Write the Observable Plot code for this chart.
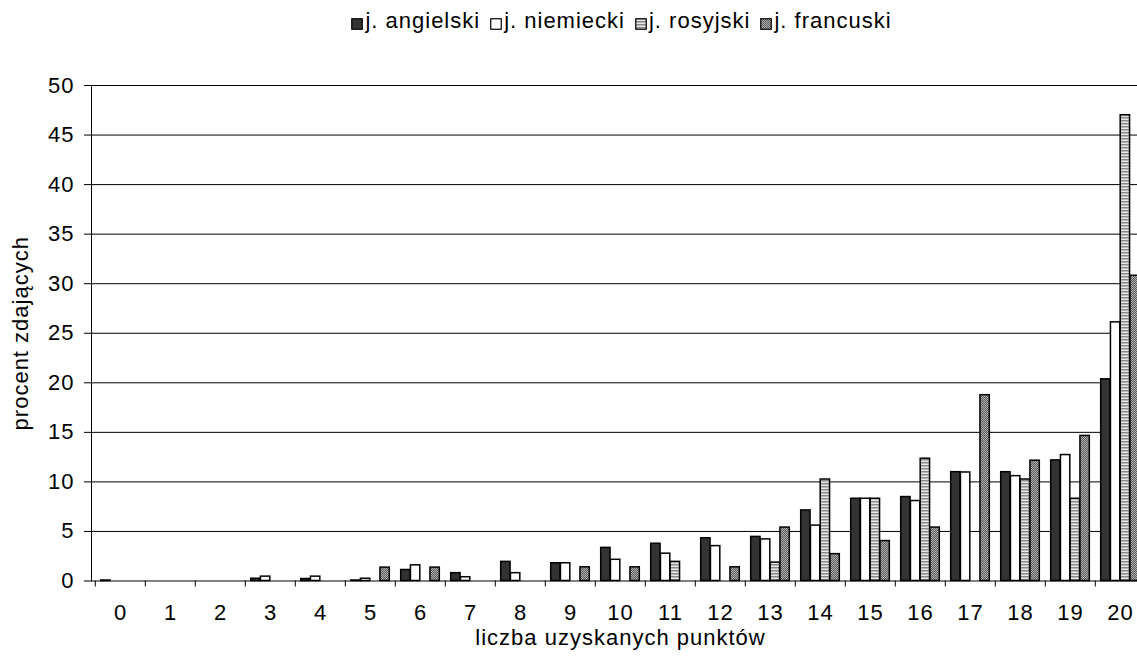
<!DOCTYPE html>
<html>
<head>
<meta charset="utf-8">
<script src="https://cdn.jsdelivr.net/npm/d3@7"></script>
<script src="https://cdn.jsdelivr.net/npm/@observablehq/plot@0.6"></script>
<style>
  html, body { margin: 0; padding: 0; background: #fff; }
  body { font-family: "Liberation Sans", Arial, sans-serif; width: 1137px; height: 666px; overflow: hidden; }
  #legend { height: 45px; box-sizing: border-box; padding-top: 10px; padding-left: 106px; display: flex; justify-content: center; align-items: flex-start; font-size: 22px; line-height: 22px; letter-spacing: 1px; color: #000; }
  .item { display: flex; align-items: center; margin: 0 5px; white-space: nowrap; }
  .item svg { margin-top: 6px; margin-right: 2px; }
  #defs { position: absolute; width: 0; height: 0; }
</style>
</head>
<body>
<svg id="defs" width="0" height="0">
  <defs>
    <pattern id="pRos" width="4" height="3" patternUnits="userSpaceOnUse">
      <rect width="4" height="3" fill="#e6e6e6"></rect>
      <rect width="4" height="1.5" fill="#8a8a8a"></rect>
    </pattern>
    <pattern id="pFra" width="2" height="2" patternUnits="userSpaceOnUse">
      <rect width="2" height="2" fill="#b0b0b0"></rect>
      <rect width="1" height="1" fill="#5a5a5a"></rect>
      <rect x="1" y="1" width="1" height="1" fill="#5a5a5a"></rect>
    </pattern>
  </defs>
</svg>
<div id="legend"></div>
<div id="chart"></div>
<script>
// ---- data ----
const categories = ["0","1","2","3","4","5","6","7","8","9","10","11","12","13","14","15","16","17","18","19","20"];
const seriesNames = ["j. angielski", "j. niemiecki", "j. rosyjski", "j. francuski"];
const angielski = [0.05, 0, 0, 0.23, 0.2, 0.05, 1.11, 0.79, 1.93, 1.79, 3.34, 3.76, 4.31, 4.45, 7.12, 8.3, 8.47, 10.98, 10.98, 12.17, 20.35];
const niemiecki = [0, 0, 0, 0.44, 0.44, 0.23, 1.58, 0.38, 0.79, 1.79, 2.14, 2.76, 3.52, 4.2, 5.59, 8.3, 8.07, 10.95, 10.58, 12.71, 26.1];
const rosyjski  = [0, 0, 0, 0, 0, 0, 0, 0, 0, 0, 0, 1.93, 0, 1.86, 10.24, 8.3, 12.34, 0, 10.24, 8.3, 47.0];
const francuski = [0, 0, 0, 0, 0, 1.35, 1.35, 0, 0, 1.38, 1.38, 0, 1.38, 5.39, 2.71, 4.03, 5.39, 18.75, 12.14, 14.64, 30.8];
const yTicks = [0, 5, 10, 15, 20, 25, 30, 35, 40, 45, 50];
const xTitle = "liczba uzyskanych punktów";
const yTitle = "procent zdających";

// ---- styling ----
const fills = ["#333333", "#ffffff", "url(#pRos)", "url(#pFra)"];
const series = [angielski, niemiecki, rosyjski, francuski];

// legend
const legend = document.getElementById("legend");
seriesNames.forEach((name, s) => {
  const item = document.createElement("div");
  item.className = "item";
  item.innerHTML = `<svg width="12" height="12"><rect x="0.75" y="0.75" width="10.5" height="10.5" fill="${fills[s]}" stroke="#000" stroke-width="1.2"></rect></svg><span>${name}</span>`;
  legend.appendChild(item);
});

const xRange = [91, 1149];
const step = (xRange[1] - xRange[0]) / categories.length;
const bw = 9.75;
const pad = (step - 4 * bw) / 2;

const barMarks = series.map((vals, s) =>
  Plot.barY(
    categories.map((c, i) => ({c, v: vals[i]})).filter(d => d.v > 0),
    {x: "c", y: "v", fill: fills[s], stroke: "#000", strokeWidth: 1.5,
     insetLeft: pad + s * bw, insetRight: step - pad - (s + 1) * bw}
  )
);

const chart = Plot.plot({
  width: 1137,
  height: 621,
  marginTop: 40,
  marginBottom: 85.5,
  marginLeft: 91,
  marginRight: 0,
  style: {fontFamily: '"Liberation Sans", Arial, sans-serif', fontSize: "22px", color: "#000", background: "#fff", overflow: "visible", letterSpacing: "1px"},
  x: {type: "band", domain: categories, range: xRange, padding: 0, tickSize: 0, tickPadding: 23.5, label: null},
  y: {domain: [0, 50], ticks: yTicks, tickSize: 7, tickPadding: 10, line: true, label: null},
  marks: [
    Plot.ruleY(yTicks, {stroke: "#000", strokeWidth: 1}),
    ...barMarks,
    Plot.ruleX(categories, {x: d => d, dx: -step / 2, y1: 0, y2: 0, insetBottom: -6, stroke: "#000"}),
    Plot.text([xTitle], {frameAnchor: "bottom", lineAnchor: "middle", textAnchor: "middle", dy: 56.5, dx: 6, fontSize: 22}),
    Plot.text([yTitle], {frameAnchor: "left", lineAnchor: "middle", textAnchor: "middle", rotate: -90, dx: -71, fontSize: 22})
  ]
});
document.getElementById("chart").appendChild(chart);
</script>
</body>
</html>
